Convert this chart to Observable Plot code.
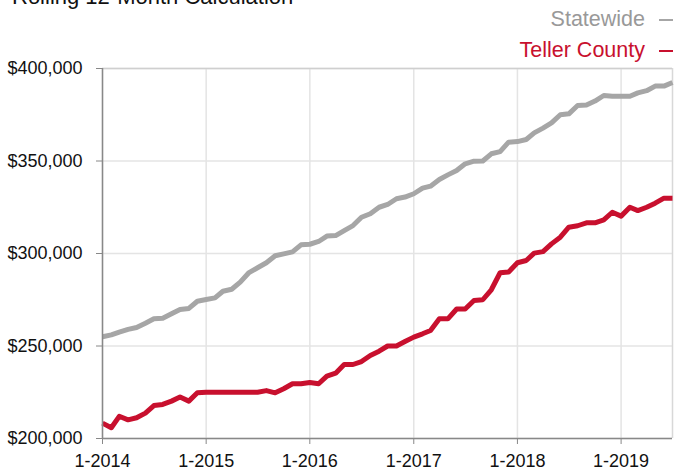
<!DOCTYPE html>
<html><head><meta charset="utf-8">
<script src="https://cdn.jsdelivr.net/npm/d3@7"></script>
<script src="https://cdn.jsdelivr.net/npm/@observablehq/plot@0.6"></script>
<style>
body{margin:0;background:#fff;font-family:"Liberation Sans",Arial,sans-serif;overflow:hidden}
#head{position:relative;height:58px;width:674px}
#title{position:absolute;left:12px;top:-14px;font-size:22px;line-height:22px;color:#111;white-space:nowrap}
.leg{position:absolute;right:1px;font-size:21.5px;white-space:nowrap;line-height:24px}
.dash{display:inline-block;width:14px;height:2px;margin-left:14px;vertical-align:middle}
</style></head><body>
<div id="head">
  <div id="title">Rolling 12-Month Calculation</div>
  <div class="leg" style="top:7px;color:#999">Statewide<span class="dash" style="background:#a6a6a6"></span></div>
  <div class="leg" style="top:38px;color:#c8102e">Teller County<span class="dash" style="background:#c8102e"></span></div>
</div>
<div id="chart"></div>
<script>
const startYear = 2014;
const statewide = [255,256,257.5,259,260,262.3,264.7,265,267.4,269.7,270.3,274.2,275.1,276,279.6,280.7,284.5,289.7,292.3,295,298.8,299.8,300.9,304.7,305,306.5,309.4,309.7,312.4,315.1,319.6,321.5,325,326.5,329.6,330.5,332.3,335.3,336.4,340,342.5,344.9,348.5,349.9,350,353.9,355.1,360.2,360.5,361.6,365.2,367.8,370.6,375,375.5,380,380.3,382.4,385.4,385,385,385,386.8,388,390.5,390.5,392.4];
const teller = [208.3,205.8,212,210.1,211.2,213.7,217.8,218.4,220.2,222.4,220.2,224.7,225,225,225,225,225,225,225,225.9,224.7,226.9,229.6,229.6,230.3,229.6,233.7,235.3,240,240,241.6,244.9,247.2,250,250,252.4,254.8,256.6,258.4,264.7,264.7,270,270,274.6,275,280.4,289.6,290,295,296.2,300.2,301,305.2,308.8,314.2,315,316.6,316.6,318.2,322.3,320.2,325,323.2,325,327.2,329.9,329.9];
const tickYears = [2014,2015,2016,2017,2018,2019];
const yTicks = [200000,250000,300000,350000,400000];

const toDate = i => new Date(Date.UTC(startYear, i, 1));
const rows = [];
statewide.forEach((v,i)=>rows.push({date:toDate(i), value:v*1000, series:"Statewide"}));
teller.forEach((v,i)=>rows.push({date:toDate(i), value:v*1000, series:"Teller County"}));
const xTicks = tickYears.map(y=>new Date(Date.UTC(y,0,1)));
const xDomain = [toDate(0), toDate(statewide.length-1)];

const chart = Plot.plot({
  width: 674, height: 412,
  marginTop: 10, marginBottom: 32, marginLeft: 102, marginRight: 2,
  style: {fontFamily: '"Liberation Sans", Arial, sans-serif', fontSize: "18px", color: "#111", background: "#fff"},
  x: {type: "utc", domain: xDomain},
  y: {domain: [200000, 400000]},
  marks: [
    Plot.ruleY(yTicks, {stroke: "#e4e4e4", strokeWidth: 1.5}),
    Plot.ruleX(xTicks, {stroke: "#e4e4e4", strokeWidth: 1.5}),
    Plot.ruleX([xDomain[1]], {stroke: "#d8d8d8", strokeWidth: 1.5}),
    Plot.ruleY([400000], {stroke: "#cfcfcf", strokeWidth: 1.5}),
    Plot.line(rows, {x: "date", y: "value", z: "series", stroke: d => d.series === "Statewide" ? "#a6a6a6" : "#c8102e", strokeWidth: 5, strokeLinejoin: "round", strokeLinecap: "butt"}),
    Plot.ruleX([xDomain[0]], {stroke: "#888", strokeWidth: 1.5}),
    Plot.ruleY([200000], {stroke: "#888", strokeWidth: 1.5}),
    Plot.axisY({ticks: yTicks, tickSize: 6, tickPadding: 14, stroke: "#888", tickFormat: d => "$" + d3.format(",")(d), fontSize: 18, label: null}),
    Plot.axisX({ticks: xTicks, tickSize: 6, tickPadding: 10, stroke: "#888", tickFormat: d => `${d.getUTCMonth()+1}-${d.getUTCFullYear()}`, fontSize: 18, label: null})
  ]
});
document.getElementById("chart").appendChild(chart);
</script>
</body></html>
